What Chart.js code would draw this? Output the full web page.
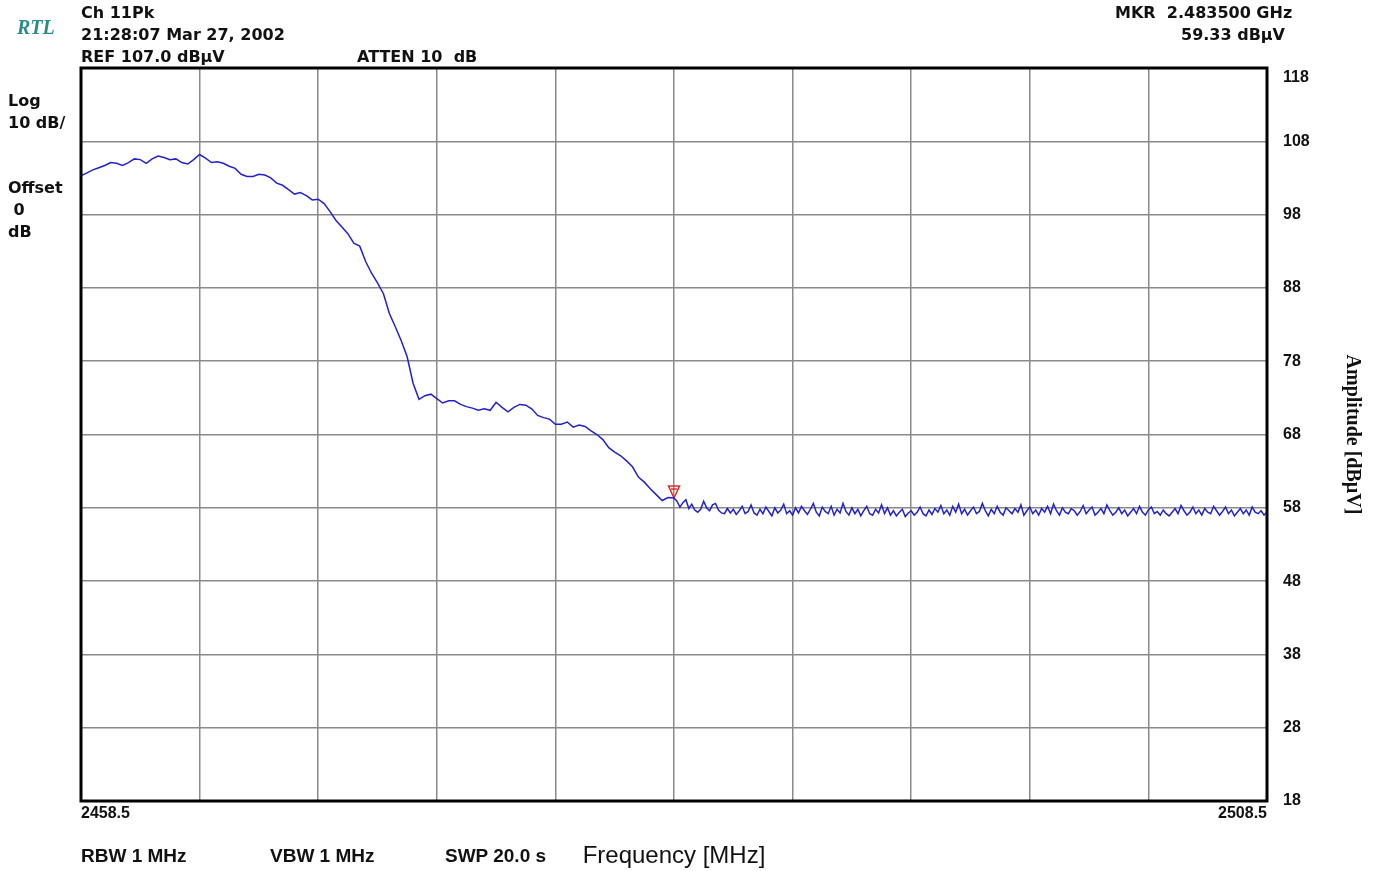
<!DOCTYPE html>
<html>
<head>
<meta charset="utf-8">
<title>Ch 11 Pk - band edge</title>
<script src="https://cdn.jsdelivr.net/npm/chart.js@4.4.0/dist/chart.umd.min.js"></script>
<style>
  body { margin: 0; background: #fff; }
  #wrap { position: relative; width: 1373px; height: 871px; }
  #trace { position: absolute; left: 0; top: 0; }
  .lbl { position: absolute; color: #111; font: bold 16px "DejaVu Sans", sans-serif; line-height: 22px; white-space: pre; }
  .foot { position: absolute; color: #111; font: bold 19px "Liberation Sans", Arial, sans-serif; line-height: 20px; white-space: pre; }
  #rtl { position: absolute; left: 17px; top: 16px; color: #2b8a8a; font: italic bold 20px "Liberation Serif", serif; }
</style>
</head>
<body>
<div id="wrap">
  <canvas id="trace" width="1373" height="871"></canvas>
  <div id="rtl">RTL</div>
  <div class="lbl" style="left:81px; top:2px;">Ch 11Pk
21:28:07 Mar 27, 2002
REF 107.0 dBµV</div>
  <div class="lbl" style="left:357px; top:46px;">ATTEN 10  dB</div>
  <div class="lbl" style="left:1115px; top:2px;">MKR  2.483500 GHz</div>
  <div class="lbl" style="left:1181px; top:24px;">59.33 dBµV</div>
  <div class="lbl" style="left:8px; top:90px;">Log
10 dB/</div>
  <div class="lbl" style="left:8px; top:177px;">Offset
 0
dB</div>
  <div class="foot" style="left:81px; top:846px;">RBW 1 MHz</div>
  <div class="foot" style="left:270px; top:846px;">VBW 1 MHz</div>
  <div class="foot" style="left:445px; top:846px;">SWP 20.0 s</div>
</div>
<script>
// sweep frequencies (MHz) - 0.25 MHz steps up to the marker, then 0.125 MHz steps in the noise floor
const freqMHz = [
  2458.5,2458.75,2459,2459.25,2459.5,2459.75,2460,2460.25,2460.5,2460.75,
  2461,2461.25,2461.5,2461.75,2462,2462.25,2462.5,2462.75,2463,2463.25,
  2463.5,2463.75,2464,2464.25,2464.5,2464.75,2465,2465.25,2465.5,2465.75,
  2466,2466.25,2466.5,2466.75,2467,2467.25,2467.5,2467.75,2468,2468.25,
  2468.5,2468.75,2469,2469.25,2469.5,2469.75,2470,2470.25,2470.5,2470.75,
  2471,2471.25,2471.5,2471.75,2472,2472.25,2472.5,2472.75,2473,2473.25,
  2473.5,2473.75,2474,2474.25,2474.5,2474.75,2475,2475.25,2475.5,2475.75,
  2476,2476.25,2476.5,2476.75,2477,2477.25,2477.5,2477.75,2478,2478.25,
  2478.5,2478.75,2479,2479.25,2479.5,2479.75,2480,2480.25,2480.5,2480.75,
  2481,2481.25,2481.5,2481.75,2482,2482.25,2482.5,2482.75,2483,2483.25,
  2483.5,
  2483.625,2483.75,2483.875,2484,2484.125,2484.25,2484.375,2484.5,2484.625,2484.75,
  2484.875,2485,2485.125,2485.25,2485.375,2485.5,2485.625,2485.75,2485.875,2486,
  2486.125,2486.25,2486.375,2486.5,2486.625,2486.75,2486.875,2487,2487.125,2487.25,
  2487.375,2487.5,2487.625,2487.75,2487.875,2488,2488.125,2488.25,2488.375,2488.5,
  2488.625,2488.75,2488.875,2489,2489.125,2489.25,2489.375,2489.5,2489.625,2489.75,
  2489.875,2490,2490.125,2490.25,2490.375,2490.5,2490.625,2490.75,2490.875,2491,
  2491.125,2491.25,2491.375,2491.5,2491.625,2491.75,2491.875,2492,2492.125,2492.25,
  2492.375,2492.5,2492.625,2492.75,2492.875,2493,2493.125,2493.25,2493.375,2493.5,
  2493.625,2493.75,2493.875,2494,2494.125,2494.25,2494.375,2494.5,2494.625,2494.75,
  2494.875,2495,2495.125,2495.25,2495.375,2495.5,2495.625,2495.75,2495.875,2496,
  2496.125,2496.25,2496.375,2496.5,2496.625,2496.75,2496.875,2497,2497.125,2497.25,
  2497.375,2497.5,2497.625,2497.75,2497.875,2498,2498.125,2498.25,2498.375,2498.5,
  2498.625,2498.75,2498.875,2499,2499.125,2499.25,2499.375,2499.5,2499.625,2499.75,
  2499.875,2500,2500.125,2500.25,2500.375,2500.5,2500.625,2500.75,2500.875,2501,
  2501.125,2501.25,2501.375,2501.5,2501.625,2501.75,2501.875,2502,2502.125,2502.25,
  2502.375,2502.5,2502.625,2502.75,2502.875,2503,2503.125,2503.25,2503.375,2503.5,
  2503.625,2503.75,2503.875,2504,2504.125,2504.25,2504.375,2504.5,2504.625,2504.75,
  2504.875,2505,2505.125,2505.25,2505.375,2505.5,2505.625,2505.75,2505.875,2506,
  2506.125,2506.25,2506.375,2506.5,2506.625,2506.75,2506.875,2507,2507.125,2507.25,
  2507.375,2507.5,2507.625,2507.75,2507.875,2508,2508.125,2508.25,2508.375,2508.5
];

// peak hold amplitude (dBuV)
const ampDbuV = [
  103.3,103.7,104.1,104.4,104.7,105.1,105.0,104.7,105.1,105.6,
  105.5,105.0,105.6,106.0,105.8,105.5,105.6,105.1,104.9,105.5,
  106.2,105.7,105.1,105.2,105.0,104.6,104.3,103.5,103.2,103.2,
  103.5,103.4,103.0,102.3,102.0,101.4,100.8,101.0,100.6,100.0,
  100.1,99.5,98.4,97.2,96.3,95.4,94.1,93.7,91.6,90.0,
  88.7,87.2,84.5,82.7,80.8,78.6,75.0,72.8,73.3,73.5,
  72.9,72.3,72.6,72.6,72.1,71.8,71.6,71.3,71.5,71.3,
  72.4,71.7,71.1,71.7,72.1,72.0,71.5,70.6,70.3,70.1,
  69.4,69.4,69.7,69.0,69.3,69.1,68.5,68.0,67.3,66.2,
  65.6,65.1,64.4,63.6,62.2,61.5,60.6,59.8,59.0,59.4,
  59.33,
  58.9,58.1,58.7,59.1,57.9,58.5,57.7,57.4,57.8,58.9,
  58.0,57.6,58.4,58.6,57.7,57.3,57.2,57.9,57.3,57.8,
  57.1,57.6,58.2,57.2,57.5,58.4,57.3,57.0,57.8,57.2,
  58.1,57.5,56.9,58.0,57.3,57.7,58.5,57.2,57.6,57.0,
  58.0,57.3,58.2,57.6,57.1,57.8,58.6,57.4,56.9,58.1,
  57.5,57.2,58.2,57.0,57.8,57.3,58.6,57.5,57.0,58.0,
  57.2,57.8,56.9,57.6,58.2,57.2,57.0,57.8,57.3,58.4,
  57.2,58.0,57.0,57.6,56.9,57.4,57.8,56.8,57.3,57.6,
  57.0,57.4,58.1,57.2,56.9,57.7,57.1,57.9,57.4,58.3,
  57.2,57.7,57.0,58.2,57.4,58.5,57.2,57.8,57.0,57.6,
  58.1,57.2,57.5,58.6,57.6,56.9,57.8,57.2,58.2,57.4,
  57.0,58.0,57.6,57.2,57.9,57.4,58.4,57.0,57.6,58.1,
  57.2,57.7,57.0,57.9,57.4,58.2,57.2,58.5,57.6,57.0,
  58.0,57.4,57.2,57.9,57.6,57.0,57.5,58.3,57.2,57.7,
  58.1,57.0,57.4,57.9,57.2,58.4,57.6,57.0,57.4,58.0,
  57.2,57.7,56.9,57.4,57.9,57.2,58.2,57.4,57.0,57.7,
  58.1,57.2,57.5,57.0,57.7,57.2,56.9,57.4,57.9,57.2,
  58.3,57.6,57.0,57.4,58.1,57.2,57.7,57.0,57.9,57.4,
  57.2,58.2,57.6,57.0,57.5,58.1,57.2,57.7,56.9,57.4,
  57.9,57.2,57.7,57.0,58.1,57.4,57.2,57.6,57.0,57.4
];

// marker
const markerFreq = [2483.5];
const markerAmp = [59.33];

// graticule
const freqTicks = [2458.5,2463.5,2468.5,2473.5,2478.5,2483.5,2488.5,2493.5,2498.5,2503.5,2508.5];
const ampTicks = [18,28,38,48,58,68,78,88,98,108,118];

var tracePts = freqMHz.map(function (f, i) { return { x: f, y: ampDbuV[i] }; });
var markerPts = markerFreq.map(function (f, i) { return { x: f, y: markerAmp[i] }; });

// red marker triangle, tip sits on the point (image is centred on it)
var mk = document.createElement('canvas');
mk.width = 14; mk.height = 28;
var mctx = mk.getContext('2d');
mctx.strokeStyle = '#e02828';
mctx.lineWidth = 1.5;
mctx.beginPath();
mctx.moveTo(1.5, 2); mctx.lineTo(12.5, 2); mctx.lineTo(7, 14); mctx.closePath();
mctx.stroke();
mctx.beginPath();
mctx.moveTo(4, 5); mctx.lineTo(10, 5);
mctx.stroke();

// thick black frame round the plot
var frame = {
  id: 'frame',
  afterDatasetsDraw: function (chart) {
    var a = chart.chartArea, c = chart.ctx;
    c.save();
    c.strokeStyle = '#000';
    c.lineWidth = 3;
    c.strokeRect(a.left, a.top, a.right - a.left, a.bottom - a.top);
    c.restore();
  }
};

Chart.defaults.font.family = '"Liberation Sans", Arial, sans-serif';
Chart.defaults.color = '#111';

var ctx = document.getElementById('trace').getContext('2d');
var chart = new Chart(ctx, {
  type: 'line',
  data: {
    datasets: [{
      data: tracePts,
      borderColor: '#2222cc',
      borderWidth: 1.5,
      pointRadius: 0,
      tension: 0
    }, {
      data: markerPts,
      showLine: false,
      pointStyle: mk,
      pointRadius: 6
    }]
  },
  options: {
    responsive: false,
    animation: false,
    events: [],
    layout: { padding: { left: 81, top: 68, right: 0, bottom: 0 } },
    plugins: { legend: { display: false }, tooltip: { enabled: false } },
    scales: {
      x: {
        type: 'linear',
        min: 2458.5,
        max: 2508.5,
        afterBuildTicks: function (s) { s.ticks = freqTicks.map(function (v) { return { value: v }; }); },
        afterFit: function (s) { s.height = 70; },
        grid: { color: '#8a8a8a', lineWidth: 1.5, drawTicks: false },
        border: { display: false },
        ticks: {
          align: 'inner',
          autoSkip: false,
          maxRotation: 0,
          padding: 3,
          font: { size: 16, weight: 'bold' },
          callback: function (v, i, t) { return (i === 0 || i === t.length - 1) ? v.toFixed(1) : ''; }
        },
        title: {
          display: true,
          text: 'Frequency [MHz]',
          color: '#111',
          font: { size: 24, weight: 'normal' },
          padding: { top: 4, bottom: 0 }
        }
      },
      y: {
        position: 'right',
        min: 18,
        max: 118,
        afterBuildTicks: function (s) { s.ticks = ampTicks.map(function (v) { return { value: v }; }); },
        afterFit: function (s) { s.width = 106; },
        grid: { color: '#8a8a8a', lineWidth: 1.5, drawTicks: false },
        border: { display: false },
        ticks: {
          padding: 16,
          font: { size: 16, weight: 'bold' },
          callback: function (v) { return v === 118 ? ['', '118'] : String(v); }
        },
        title: {
          display: true,
          text: 'Amplitude [dBµV]',
          color: '#111',
          font: { family: '"Liberation Serif", serif', size: 20, weight: 'bold' },
          padding: { top: 9, bottom: 0 }
        }
      }
    }
  },
  plugins: [frame]
});
</script>
</body>
</html>
